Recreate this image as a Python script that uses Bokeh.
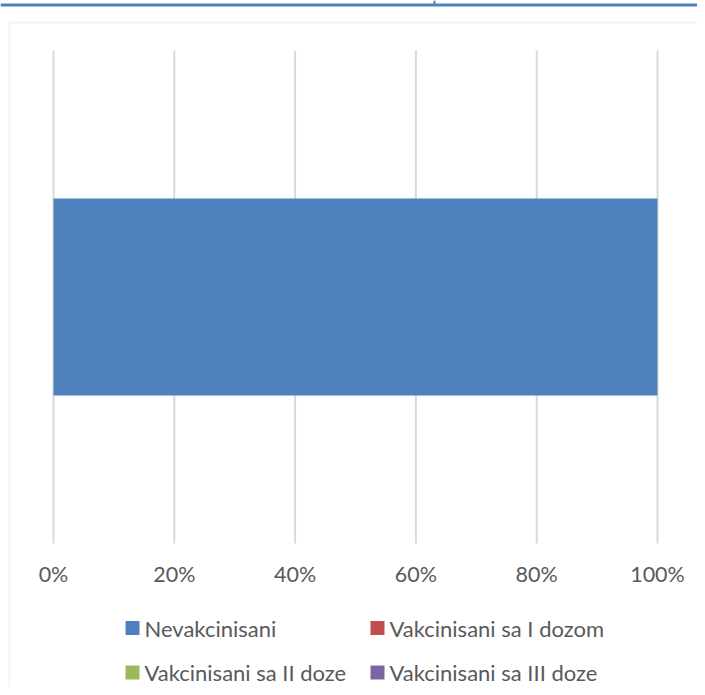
from bokeh.plotting import figure
from bokeh.models import ColumnDataSource, Range1d, BoxAnnotation
from bokeh.core.properties import value
from bokeh.embed import file_html
from bokeh.resources import INLINE

# ---- data ----
categories = ["Ukupno"]
series_names = ["Nevakcinisani", "Vakcinisani sa I dozom",
                "Vakcinisani sa II doze", "Vakcinisani sa III doze"]
nevakcinisani = [1.0]
vakc_1 = [0.0]
vakc_2 = [0.0]
vakc_3 = [0.0]
tick_values = [0, 0.2, 0.4, 0.6, 0.8, 1.0]
tick_labels = ["0%", "20%", "40%", "60%", "80%", "100%"]
colors = ["#4f81bd", "#c0504d", "#9bbb59", "#8064a2"]

# ---- geometry (canvas pixels of the figure) ----
W, H = 697, 687
PX_L, PX_R = 53, 657      # x=0 and x=1
PX_T, PX_B = 50, 543      # y=1 and y=0
sx = (PX_R - PX_L)
sy = (PX_B - PX_T)


def dx(px):
    return (px - PX_L) / sx


def dy(py):
    return (PX_B - py) / sy


FONT = "Lato"
TXT = "#595959"

p = figure(width=W, height=H, output_backend="svg", toolbar_location=None,
           x_range=Range1d(dx(0), dx(W)), y_range=Range1d(dy(H), dy(0)),
           min_border=0, min_border_left=0, min_border_right=0,
           min_border_top=0, min_border_bottom=0)
p.outline_line_color = None
p.background_fill_color = "white"
p.border_fill_color = "white"
p.xaxis.visible = False
p.yaxis.visible = False
p.grid.visible = False

# vertical gridlines at tick values
p.segment(x0=tick_values, x1=tick_values, y0=[0] * len(tick_values), y1=[1] * len(tick_values),
          line_color="#d9d9d9", line_width=2)

# stacked bar
keys = ["s0", "s1", "s2", "s3"]
source = ColumnDataSource(data=dict(y=[0.5], s0=nevakcinisani, s1=vakc_1, s2=vakc_2, s3=vakc_3,
                                    cat=categories))
p.hbar_stack(keys, y="y", height=0.4, source=source, color=colors, line_color=None)

# tick labels
p.text(x=tick_values, y=[dy(573)] * len(tick_values), text=tick_labels,
       text_font=value(FONT), text_font_size="21.5px", text_color=TXT,
       text_align="center", text_baseline="middle")

# legend (2 x 2)
leg_sq_x = [dx(132), dx(377), dx(132), dx(377)]
leg_y = [dy(627.5), dy(627.5), dy(672), dy(672)]
leg_tx = [dx(144), dx(389), dx(144), dx(389)]
p.rect(x=leg_sq_x, y=leg_y, width=14, height=14, width_units="screen", height_units="screen",
       fill_color=colors, line_color=None)
p.text(x=leg_tx, y=leg_y, text=series_names,
       text_font=value(FONT), text_font_size="22px", text_color=TXT,
       text_align="left", text_baseline="middle")

# page decorations: header rule (with small mark) and chart border
p.add_layout(BoxAnnotation(left=0, right=W, top=3, bottom=6,
                           left_units="canvas", right_units="canvas",
                           top_units="canvas", bottom_units="canvas",
                           fill_color="#4f81bd", fill_alpha=1, line_color=None))
p.add_layout(BoxAnnotation(left=433, right=435, top=0, bottom=4,
                           left_units="canvas", right_units="canvas",
                           top_units="canvas", bottom_units="canvas",
                           fill_color="#4f81bd", fill_alpha=1, line_color=None))
p.add_layout(BoxAnnotation(left=9, right=W + 20, top=22, bottom=H + 20,
                           left_units="canvas", right_units="canvas",
                           top_units="canvas", bottom_units="canvas",
                           fill_alpha=0, line_color="#d9d9d9", line_width=2))

open("out.html", "w").write(file_html(p, INLINE))
